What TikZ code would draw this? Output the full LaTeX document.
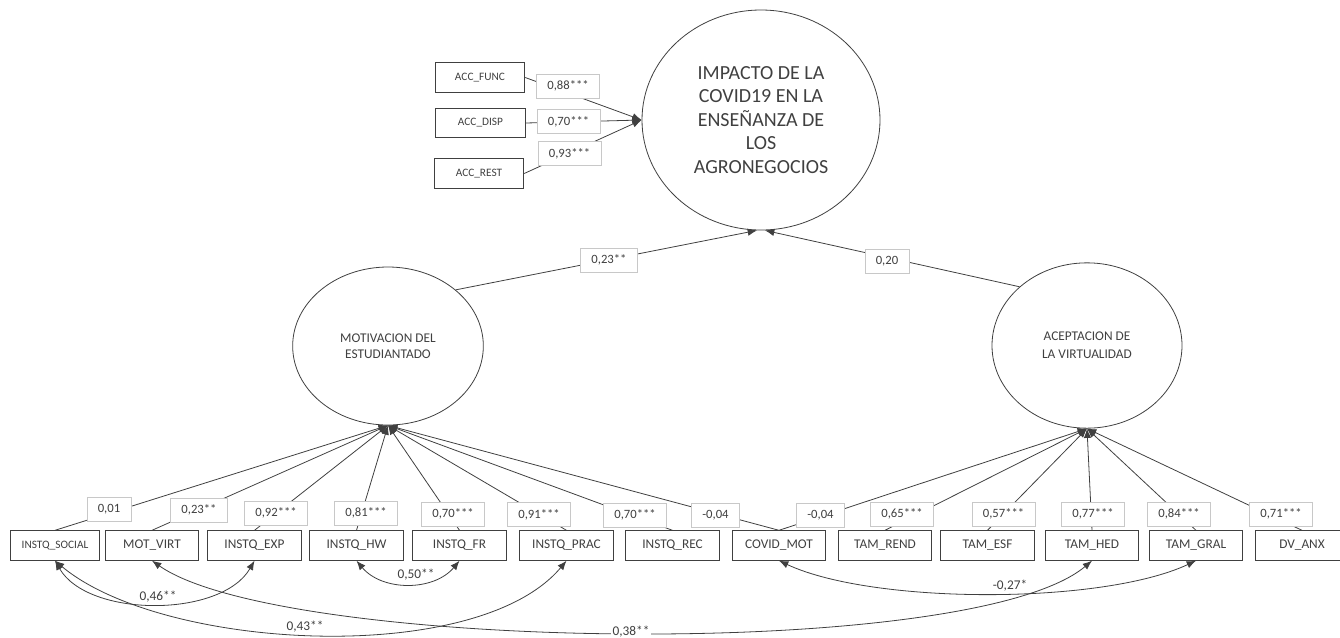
\documentclass[tikz,border=0pt]{standalone}
\usepackage{fontspec}
\setmainfont{Carlito}
\usetikzlibrary{arrows.meta,shapes.geometric}

\definecolor{ink}{HTML}{404040}
\definecolor{lblgray}{HTML}{C8C8C8}

\begin{document}
\begin{tikzpicture}[x=0.75pt,y=-0.75pt,
>={Latex[length=7pt,width=5.5pt]},
every node/.style={text=ink},
latent/.style={ellipse,draw=ink,line width=0.6pt,inner sep=0pt,align=center},
obs/.style={rectangle,draw=ink,line width=0.8pt,minimum width=70pt,
minimum height=22pt,inner sep=0pt,font=\fontsize{10}{12}\selectfont},
obssmall/.style={obs,minimum width=67pt,font=\fontsize{8.5}{10}\selectfont},
coef/.style={rectangle,draw=lblgray,fill=white,line width=0.5pt,
minimum height=18pt,inner xsep=8pt,inner ysep=0pt,font=\fontsize{9.5}{11}\selectfont},
cov/.style={inner sep=1pt,font=\fontsize{10}{12}\selectfont},
link/.style={draw=ink,line width=0.6pt}]
\useasboundingbox (0,0) rectangle (1340,637);

% latent variables
\node[latent,minimum width=178.5pt,minimum height=165pt,
font=\fontsize{15}{17.6}\selectfont] (imp) at (761,120)
{IMPACTO DE LA\\COVID19 EN LA\\ENSEÑANZA DE\\LOS\\AGRONEGOCIOS};
\node[latent,minimum width=143pt,minimum height=118.5pt,
font=\fontsize{10}{12}\selectfont] (mot) at (388,346)
{MOTIVACION DEL\\ESTUDIANTADO};
\node[latent,minimum width=142.5pt,minimum height=124pt,
font=\fontsize{10}{13.5}\selectfont] (acep) at (1087,345.5)
{ACEPTACION DE\\LA VIRTUALIDAD};

% access items
\node[obssmall] (func) at (480,77.5) {ACC\_FUNC};
\node[obssmall] (disp) at (480.5,123) {ACC\_DISP};
\node[obssmall] (rest) at (479,173.5) {ACC\_REST};

% observed items
\node[obssmall] (social) at (55,545.5) {INSTQ\_SOCIAL};
\node[obs] (virt) at (152,545.5) {MOT\_VIRT};
\node[obs] (exp) at (254.5,545.5) {INSTQ\_EXP};
\node[obs] (hw) at (356.5,545.5) {INSTQ\_HW};
\node[obs] (fr) at (459.5,545.5) {INSTQ\_FR};
\node[obs] (prac) at (566.5,545.5) {INSTQ\_PRAC};
\node[obs] (rec) at (672.5,545.5) {INSTQ\_REC};
\node[obs] (covid) at (779,545.5) {COVID\_MOT};
\node[obs] (rend) at (885,545.5) {TAM\_REND};
\node[obs] (esf) at (987.5,545.5) {TAM\_ESF};
\node[obs] (hed) at (1092,545.5) {TAM\_HED};
\node[obs] (gral) at (1196,545.5) {TAM\_GRAL};
\node[obs] (anx) at (1302,545.5) {DV\_ANX};

% paths
\foreach \i in {func,disp,rest}
  \draw[link,->] (\i.east) -- (imp.west);
\draw[link,->] (mot.north east) -- ([xshift=-3pt]imp.south);
\draw[link,->] (acep.north west) -- ([xshift=3pt]imp.south);
\foreach \i in {social,virt,exp,hw,fr,prac,rec,covid}
  \draw[link,->] (\i.north) -- (mot.south);
\foreach \i in {covid,rend,esf,hed,gral,anx}
  \draw[link,->] (\i.north) -- (acep.south);

% covariances
\draw[link,<->] (social.south) to[out=-60,in=-120,looseness=0.85] (exp.south);
\draw[link,<->] (social.south) to[out=-40,in=-130,looseness=0.7] (prac.south);
\draw[link,<->] (virt.south) to[out=-35,in=-140,looseness=0.43] (hed.south);
\draw[link,<->] (hw.south) to[out=-50,in=-130] (fr.south);
\draw[link,<->] (covid.south) to[out=-25,in=-155,looseness=0.64] (gral.south);

% coefficients
\node[coef] (cfunc) at (568,86) {0,88***};
\node[coef] (cdisp) at (568.5,121.5) {0,70***};
\node[coef] (crest) at (569.5,153.5) {0,93***};
\node[coef] (cmot) at (609,260) {0,23**};
\node[coef] (cacep) at (887,261) {0,20};
\node[coef] (csocial) at (109,509) {0,01};
\node[coef] (cvirt) at (199,510) {0,23**};
\node[coef] (cexp) at (276,513) {0,92***};
\node[coef] (chw) at (366,513) {0,81***};
\node[coef] (cfr) at (453,514) {0,70***};
\node[coef] (cprac) at (539,514.5) {0,91***};
\node[coef] (crec) at (635,515) {0,70***};
\node[coef] (ccovidm) at (715.5,515) {-0,04};
\node[coef] (ccovida) at (820.5,515) {-0,04};
\node[coef] (crend) at (902,514) {0,65***};
\node[coef] (cesf) at (1003.5,514) {0,57***};
\node[coef] (ched) at (1093,514) {0,77***};
\node[coef] (cgral) at (1179,514) {0,84***};
\node[coef] (canx) at (1281,514) {0,71***};

\node[cov] (vexp) at (158,597) {0,46**};
\node[cov] (vprac) at (305,627) {0,43**};
\node[cov,fill=white] (vhed) at (631,632) {0,38**};
\node[cov] (vfr) at (416,575) {0,50**};
\node[cov] (vgral) at (1010,586) {-0,27*};
\end{tikzpicture}
\end{document}
